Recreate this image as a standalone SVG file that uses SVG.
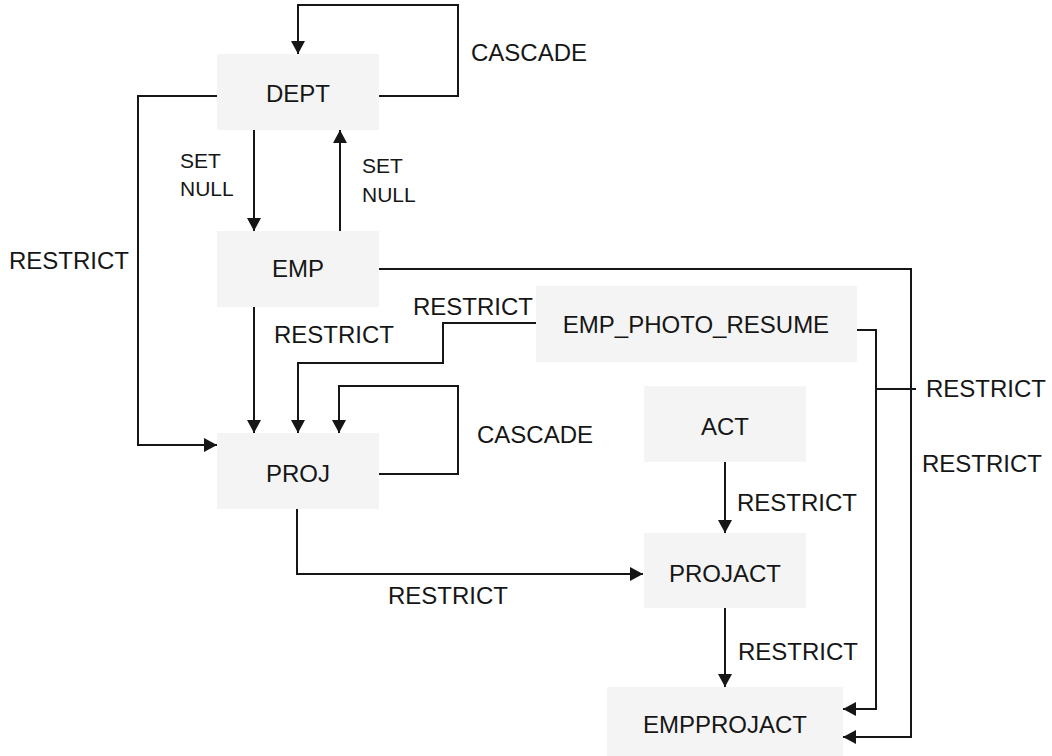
<svg xmlns="http://www.w3.org/2000/svg" width="1052" height="756" viewBox="0 0 1052 756">
<style>
.box{fill:#f4f4f4;}
.lbl{font-family:"Liberation Sans",Arial,sans-serif;font-size:24px;fill:#161616;}
.nl{text-anchor:middle;}
.sm{font-size:21px;}
.ln{fill:none;stroke:#161616;stroke-width:2;}
.ar{marker-end:url(#ah);}
</style>
<defs>
<marker id="ah" markerUnits="userSpaceOnUse" markerWidth="14" markerHeight="14" refX="13" refY="7" orient="auto">
<path d="M0,0 L13,7 L0,14 z" fill="#161616"/>
</marker>
</defs>
<rect width="1052" height="756" fill="#ffffff"/>
<g id="nodes">
<g id="DEPT"><rect class="box" x="217" y="54" width="162" height="76"/><text class="lbl nl" x="298" y="102">DEPT</text></g>
<g id="EMP"><rect class="box" x="217" y="231" width="162" height="76"/><text class="lbl nl" x="298" y="277">EMP</text></g>
<g id="EMP_PHOTO_RESUME"><rect class="box" x="536" y="286" width="321" height="76"/><text class="lbl nl" x="696" y="333">EMP_PHOTO_RESUME</text></g>
<g id="PROJ"><rect class="box" x="217" y="433" width="162" height="76"/><text class="lbl nl" x="298" y="482">PROJ</text></g>
<g id="ACT"><rect class="box" x="644" y="386" width="162" height="76"/><text class="lbl nl" x="725" y="435">ACT</text></g>
<g id="PROJACT"><rect class="box" x="644" y="533" width="162" height="75"/><text class="lbl nl" x="725" y="582">PROJACT</text></g>
<g id="EMPPROJACT"><rect class="box" x="607" y="687" width="236" height="76"/><text class="lbl nl" x="725" y="733">EMPPROJACT</text></g>
</g>
<g id="connectors">
<polyline class="ln ar" points="379,96 458,96 458,5 298,5 298,54"/>
<polyline class="ln ar" points="217,96 138,96 138,445 217,445"/>
<line class="ln ar" x1="254" y1="130" x2="254" y2="231"/>
<line class="ln ar" x1="340" y1="231" x2="340" y2="130"/>
<line class="ln ar" x1="254" y1="307" x2="254" y2="433"/>
<polyline class="ln ar" points="536,323 443,323 443,363 298,363 298,433"/>
<polyline class="ln ar" points="379,474 458,474 458,386 339,386 339,433"/>
<polyline class="ln ar" points="379,269 911,269 911,737 843,737"/>
<polyline class="ln ar" points="857,330 876,330 876,709 843,709"/>
<line class="ln" x1="876" y1="389" x2="916" y2="389"/>
<polyline class="ln ar" points="297,509 297,574 643,574"/>
<line class="ln ar" x1="725" y1="462" x2="725" y2="533"/>
<line class="ln ar" x1="725" y1="608" x2="725" y2="687"/>
</g>
<g id="labels">
<text class="lbl" x="471" y="61">CASCADE</text>
<text class="lbl sm" x="180" y="168">SET</text>
<text class="lbl sm" x="180" y="196">NULL</text>
<text class="lbl sm" x="362" y="173">SET</text>
<text class="lbl sm" x="362" y="202">NULL</text>
<text class="lbl" x="9" y="269">RESTRICT</text>
<text class="lbl" x="274" y="343">RESTRICT</text>
<text class="lbl" x="413" y="315">RESTRICT</text>
<text class="lbl" x="477" y="443">CASCADE</text>
<text class="lbl" x="926" y="397">RESTRICT</text>
<text class="lbl" x="922" y="472">RESTRICT</text>
<text class="lbl" x="737" y="511">RESTRICT</text>
<text class="lbl" x="388" y="604">RESTRICT</text>
<text class="lbl" x="738" y="660">RESTRICT</text>
</g>
</svg>
